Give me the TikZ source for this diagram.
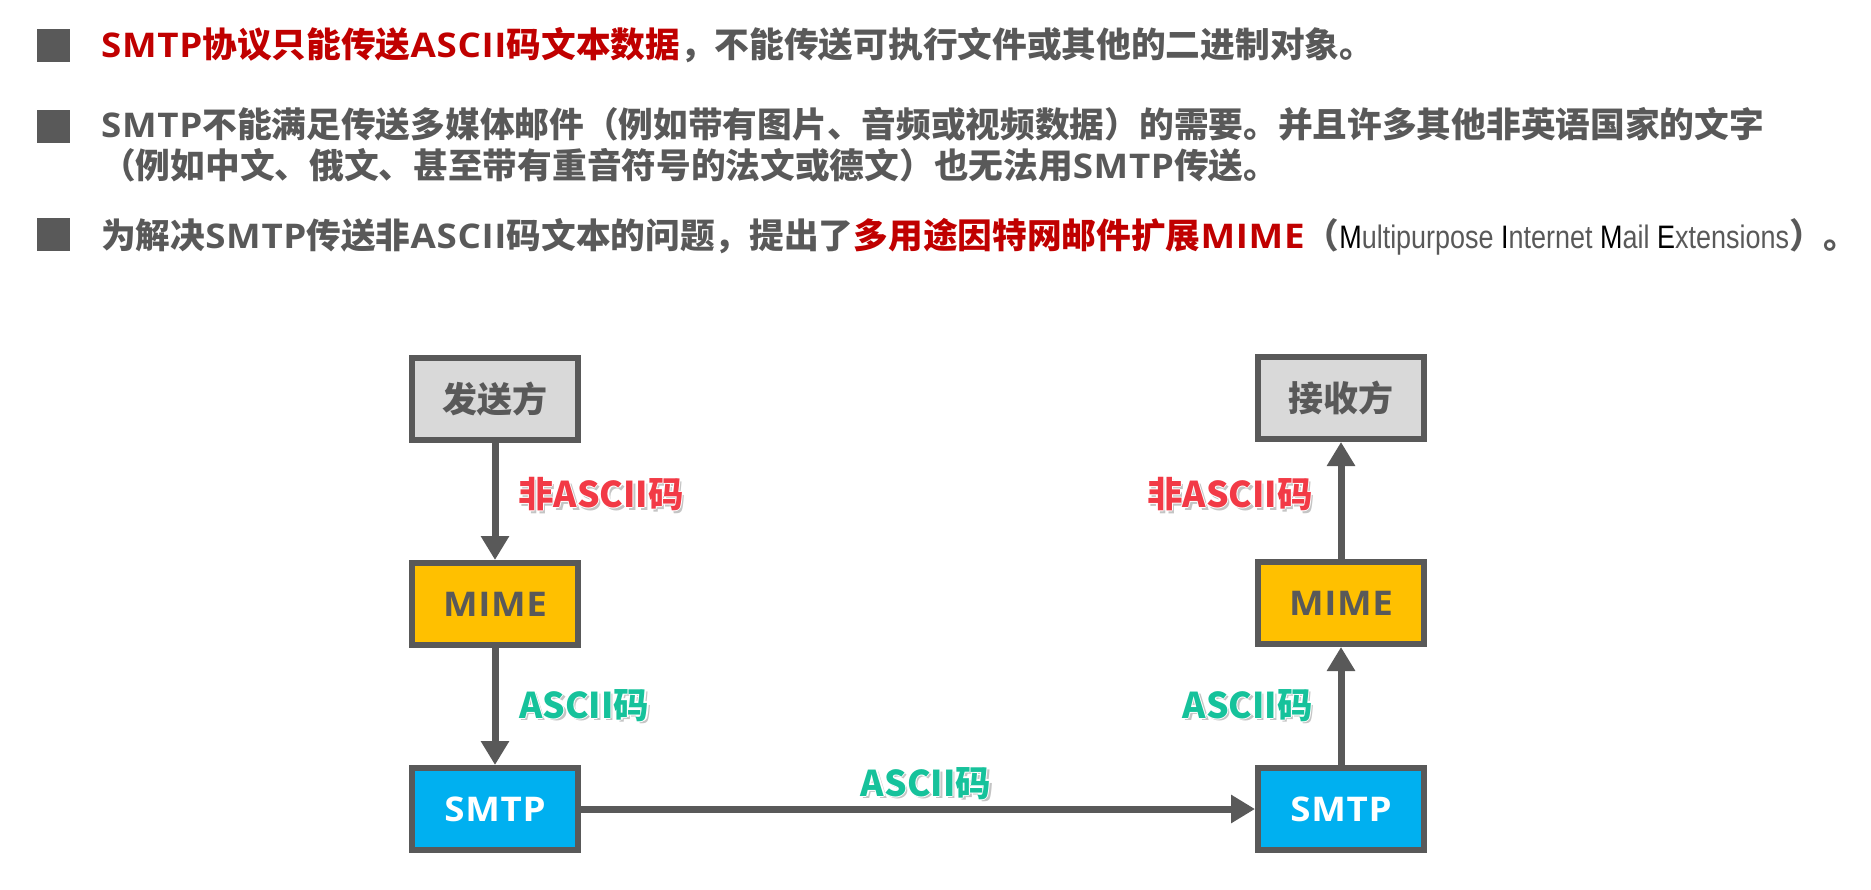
\documentclass[tikz,border=0pt]{standalone}
\usepackage{fontspec}
\setmainfont{Noto Sans CJK SC}
\newfontfamily\narrowfont{Liberation Sans}[FakeStretch=0.83]
\newfontfamily\latinfont{Open Sans}[FakeStretch=1.08, LetterSpace=2]
\usetikzlibrary{arrows.meta}

\definecolor{txtgray}{HTML}{595959}
\definecolor{hired}{HTML}{C00000}
\definecolor{boxline}{HTML}{595959}
\definecolor{boxgray}{HTML}{D9D9D9}
\definecolor{mimegold}{HTML}{FFC000}
\definecolor{smtpblue}{HTML}{00B0F0}
\definecolor{lblred}{HTML}{F23A46}
\definecolor{lblgreen}{HTML}{16C29B}
\definecolor{shade}{HTML}{C4C4C4}

% wide bold Latin words set inside Chinese lines
\newcommand\lat[1]{{\latinfont\bfseries\fontsize{34}{40}\selectfont #1}}

% coloured label text with a white rim and a soft drop shadow
\newcommand\haloed[2]{%
  \leavevmode
  \rlap{\kern2.5pt\raisebox{-2.5pt}{\textcolor{shade}{#2}}}%
  \rlap{\kern-1.2pt\textcolor{white}{#2}}%
  \rlap{\kern1.2pt\textcolor{white}{#2}}%
  \rlap{\raisebox{1.2pt}{\textcolor{white}{#2}}}%
  \rlap{\raisebox{-1.2pt}{\textcolor{white}{#2}}}%
  \textcolor{#1}{#2}}

\begin{document}
\begin{tikzpicture}[x=1pt,y=-1pt,
  bullet/.style={fill=txtgray, minimum size=33pt, inner sep=0pt},
  textline/.style={anchor=base west, inner sep=0pt,
    font=\fontsize{34.7}{40}\selectfont\bfseries, text=txtgray},
  flowbox/.style={draw=boxline, line width=6pt, minimum width=166pt,
    minimum height=82pt, inner sep=0pt,
    font=\fontsize{35}{40}\selectfont\bfseries},
  party/.style={flowbox, fill=boxgray, text=txtgray},
  mimebox/.style={flowbox, fill=mimegold, text=txtgray},
  smtpbox/.style={flowbox, fill=smtpblue, text=white},
  flow/.style={draw=boxline, line width=7pt,
    -{Triangle[width=27pt,length=24pt]}},
  lbl/.style={inner sep=0pt, font=\fontsize{35.5}{40}\selectfont\bfseries},
]
\useasboundingbox (0,0) rectangle (1871,890);

% bullet list
\node[bullet] (b1) at (53,46) {};
\node[textline] (t1) at (101,58)
  {\textcolor{hired}{\lat{SMTP}协议只能传送\lat{ASCII}码文本数据}，不能传送可执行文件或其他的二进制对象。};
\node[bullet] (b2) at (53,127) {};
\node[textline] (t2a) at (101,138)
  {\lat{SMTP}不能满足传送多媒体邮件（例如带有图片、音频或视频数据）的需要。并且许多其他非英语国家的文字};
\node[textline] (t2b) at (101,179)
  {（例如中文、俄文、甚至带有重音符号的法文或德文）也无法用\lat{SMTP}传送。};
\node[bullet] (b3) at (53,235) {};
\node[textline] (t3) at (101,249)
  {为解决\lat{SMTP}传送非\lat{ASCII}码文本的问题，提出了\textcolor{hired}{多用途因特网邮件扩展\lat{MIME}}（{\narrowfont\mdseries\fontsize{32.5}{38}\selectfont\textcolor{black}{M}ultipurpose \textcolor{black}{I}nternet \textcolor{black}{M}ail \textcolor{black}{E}xtensions}）。};

% flow boxes
\node[party]   (snd)   at (495,399) {发送方};
\node[mimebox] (mimeL) at (495,604) {\lat{MIME}};
\node[smtpbox] (smtpL) at (495,809) {\lat{SMTP}};
\node[party]   (rcv)   at (1341,398) {接收方};
\node[mimebox] (mimeR) at (1341,603) {\lat{MIME}};
\node[smtpbox] (smtpR) at (1341,809) {\lat{SMTP}};

% connectors
\draw[flow] (snd.south) -- (mimeL.north);
\draw[flow] (mimeL.south) -- (smtpL.north);
\draw[flow] (smtpL.east) -- (smtpR.west);
\draw[flow] (smtpR.north) -- (mimeR.south);
\draw[flow] (mimeR.north) -- (rcv.south);

% connector labels
\node[lbl, anchor=west] (n1) at (518,495) {\haloed{lblred}{非ASCII码}};
\node[lbl, anchor=east] (n2) at (1313,495) {\haloed{lblred}{非ASCII码}};
\node[lbl, anchor=west] (a1) at (519,706) {\haloed{lblgreen}{ASCII码}};
\node[lbl, anchor=east] (a2) at (1313,706) {\haloed{lblgreen}{ASCII码}};
\node[lbl] (a3) at (926,784) {\haloed{lblgreen}{ASCII码}};
\end{tikzpicture}
\end{document}
